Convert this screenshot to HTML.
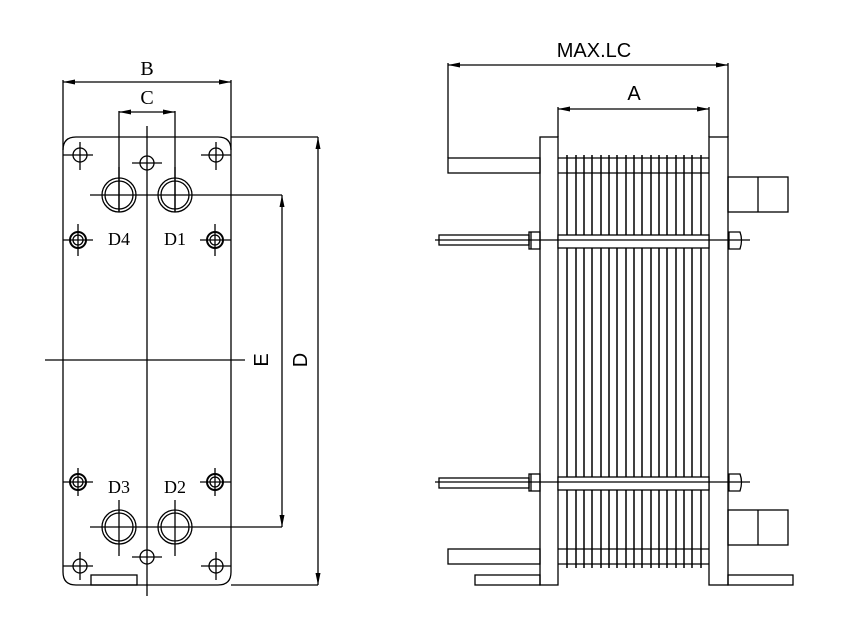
<!DOCTYPE html>
<html><head><meta charset="utf-8"><style>html,body{margin:0;padding:0;background:#fff}svg{display:block}</style></head>
<body>
<svg width="843" height="635" viewBox="0 0 843 635" xmlns="http://www.w3.org/2000/svg" font-family="Liberation Sans, sans-serif">
<defs>
<marker id="ar" viewBox="0 0 12 5" refX="12" refY="2.5" markerWidth="12" markerHeight="5" markerUnits="userSpaceOnUse" orient="auto-start-reverse"><path d="M0,0 L12,2.5 L0,5 z" fill="#000"/></marker>
</defs>
<g stroke="#000" stroke-width="1.3" fill="none">
<!-- LEFT VIEW -->
<path d="M63,150 Q63,137 76,137 L218,137 Q231,137 231,150 L231,572 Q231,585 218,585 L76,585 Q63,585 63,572 Z"/>
<line x1="63" y1="80" x2="63" y2="150"/><line x1="231" y1="80" x2="231" y2="150"/>
<line x1="63" y1="82" x2="231" y2="82" marker-start="url(#ar)" marker-end="url(#ar)"/>
<line x1="119" y1="111" x2="119" y2="212"/><line x1="175" y1="111" x2="175" y2="212"/>
<line x1="119" y1="112" x2="175" y2="112" marker-start="url(#ar)" marker-end="url(#ar)"/>
<line x1="147" y1="126" x2="147" y2="596"/>
<line x1="45" y1="360" x2="245" y2="360"/>
<line x1="231" y1="137" x2="318" y2="137"/><line x1="231" y1="585" x2="318" y2="585"/>
<line x1="318" y1="137" x2="318" y2="585" marker-start="url(#ar)" marker-end="url(#ar)"/>
<line x1="90" y1="195" x2="282" y2="195"/><line x1="90" y1="527" x2="282" y2="527"/>
<line x1="282" y1="195" x2="282" y2="527" marker-start="url(#ar)" marker-end="url(#ar)"/>
<!-- ports -->
<circle cx="119" cy="195" r="17"/><circle cx="119" cy="195" r="14"/>
<circle cx="175" cy="195" r="17"/><circle cx="175" cy="195" r="14"/>
<circle cx="119" cy="527" r="17"/><circle cx="119" cy="527" r="14"/>
<circle cx="175" cy="527" r="17"/><circle cx="175" cy="527" r="14"/>
<line x1="119" y1="212" x2="119" y2="167"/><line x1="175" y1="212" x2="175" y2="167"/>
<line x1="119" y1="500" x2="119" y2="556"/><line x1="175" y1="500" x2="175" y2="556"/>
<!-- small holes -->
<circle cx="147" cy="163" r="7"/><line x1="132" y1="163" x2="162" y2="163"/>
<circle cx="147" cy="557" r="7"/><line x1="132" y1="557" x2="162" y2="557"/>
<circle cx="80" cy="155" r="7"/><line x1="63" y1="155" x2="93" y2="155"/><line x1="80" y1="142" x2="80" y2="170"/>
<circle cx="216" cy="155" r="7"/><line x1="201" y1="155" x2="231" y2="155"/><line x1="216" y1="142" x2="216" y2="170"/>
<circle cx="80" cy="566" r="7"/><line x1="63" y1="566" x2="93" y2="566"/><line x1="80" y1="552" x2="80" y2="580"/>
<circle cx="216" cy="566" r="7"/><line x1="201" y1="566" x2="231" y2="566"/><line x1="216" y1="552" x2="216" y2="580"/>
<!-- bolt holes -->
<g>
<circle cx="78" cy="240" r="8" stroke-width="2"/><circle cx="78" cy="240" r="5"/><line x1="63" y1="240" x2="93" y2="240"/><line x1="78" y1="224" x2="78" y2="256"/>
<circle cx="215" cy="240" r="8" stroke-width="2"/><circle cx="215" cy="240" r="5"/><line x1="200" y1="240" x2="231" y2="240"/><line x1="215" y1="224" x2="215" y2="256"/>
<circle cx="78" cy="482" r="8" stroke-width="2"/><circle cx="78" cy="482" r="5"/><line x1="63" y1="482" x2="93" y2="482"/><line x1="78" y1="468" x2="78" y2="496"/>
<circle cx="215" cy="482" r="8" stroke-width="2"/><circle cx="215" cy="482" r="5"/><line x1="200" y1="482" x2="231" y2="482"/><line x1="215" y1="468" x2="215" y2="496"/>
</g>
<rect x="91" y="575" width="46" height="10"/>

<!-- RIGHT VIEW -->
<line x1="448" y1="63" x2="448" y2="158"/><line x1="728" y1="63" x2="728" y2="137"/>
<line x1="448" y1="65" x2="728" y2="65" marker-start="url(#ar)" marker-end="url(#ar)"/>
<line x1="558" y1="107" x2="558" y2="137"/><line x1="709" y1="107" x2="709" y2="137"/>
<line x1="558" y1="109" x2="709" y2="109" marker-start="url(#ar)" marker-end="url(#ar)"/>
<g stroke-width="1.5">
<line x1="567" y1="155" x2="567" y2="568"/><line x1="576" y1="155" x2="576" y2="568"/><line x1="584" y1="155" x2="584" y2="568"/><line x1="592" y1="155" x2="592" y2="568"/><line x1="601" y1="155" x2="601" y2="568"/><line x1="609" y1="155" x2="609" y2="568"/><line x1="617" y1="155" x2="617" y2="568"/><line x1="626" y1="155" x2="626" y2="568"/><line x1="634" y1="155" x2="634" y2="568"/><line x1="642" y1="155" x2="642" y2="568"/><line x1="651" y1="155" x2="651" y2="568"/><line x1="659" y1="155" x2="659" y2="568"/><line x1="667" y1="155" x2="667" y2="568"/><line x1="676" y1="155" x2="676" y2="568"/><line x1="684" y1="155" x2="684" y2="568"/><line x1="692" y1="155" x2="692" y2="568"/><line x1="701" y1="155" x2="701" y2="568"/>
</g>
<line x1="558" y1="158" x2="709" y2="158"/><line x1="558" y1="173" x2="709" y2="173"/>
<line x1="558" y1="549" x2="709" y2="549"/><line x1="558" y1="564" x2="709" y2="564"/>
<rect x="540" y="137" width="18" height="448" fill="#fff"/>
<rect x="709" y="137" width="19" height="448" fill="#fff"/>
<rect x="448" y="158" width="92" height="15"/>
<rect x="448" y="549" width="92" height="15"/>
<rect x="475" y="575" width="65" height="10"/>
<rect x="728" y="575" width="65" height="10"/>
<rect x="728" y="177" width="60" height="35"/><line x1="758" y1="177" x2="758" y2="212"/>
<rect x="728" y="510" width="60" height="35"/><line x1="758" y1="510" x2="758" y2="545"/>
<!-- bolts -->
<g>
<rect x="439" y="235" width="90" height="10"/>
<rect x="558" y="235" width="151" height="13" fill="#fff"/>
<rect x="529" y="232" width="11" height="17"/><line x1="531" y1="232" x2="531" y2="249"/>
<path d="M729,232 L740,232 Q743,240 740,249 L729,249 Z"/>
<line x1="435" y1="240" x2="750" y2="240"/>
</g>
<g>
<rect x="439" y="478" width="90" height="10"/>
<rect x="558" y="477" width="151" height="13" fill="#fff"/>
<rect x="529" y="474" width="11" height="17"/><line x1="531" y1="474" x2="531" y2="491"/>
<path d="M729,474 L740,474 Q743,482 740,491 L729,491 Z"/>
<line x1="435" y1="482" x2="750" y2="482"/>
</g>
</g>
<g font-size="20" fill="#000" font-family="Liberation Serif, serif">
<text x="147" y="75" text-anchor="middle">B</text>
<text x="147" y="104" text-anchor="middle">C</text>
<text x="119" y="245" text-anchor="middle" font-size="18">D4</text>
<text x="175" y="245" text-anchor="middle" font-size="18">D1</text>
<text x="119" y="493" text-anchor="middle" font-size="18">D3</text>
<text x="175" y="493" text-anchor="middle" font-size="18">D2</text>
<text transform="translate(268,360) rotate(-90)" text-anchor="middle" font-family="Liberation Sans, sans-serif">E</text>
<text transform="translate(307,360) rotate(-90)" text-anchor="middle" font-family="Liberation Sans, sans-serif">D</text>
</g>
<g font-size="20" fill="#000" font-family="Liberation Sans, sans-serif">
<text x="594" y="57" text-anchor="middle">MAX.LC</text>
<text x="634" y="100" text-anchor="middle">A</text>
</g>
</svg>
</body></html>
